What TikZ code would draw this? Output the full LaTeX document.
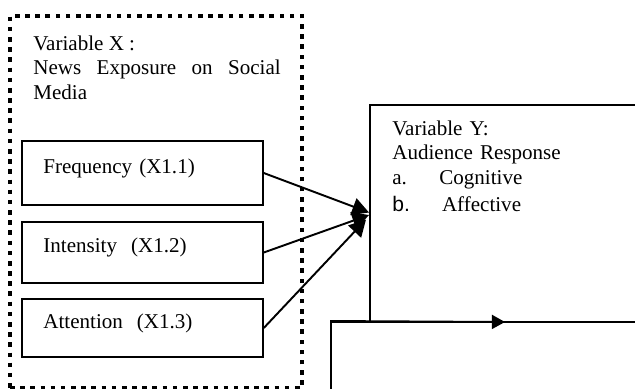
\documentclass[tikz,border=0pt]{standalone}
\usepackage{fontspec}
\setmainfont{Liberation Serif}
\setsansfont{Liberation Sans}
\usetikzlibrary{arrows.meta}

\tikzset{
	itembox/.style = {draw, line width = 0.85pt, minimum width = 137.4pt, text width = 113pt, inner xsep = 12pt, align = left, text height = 9pt, text depth = 9pt},
	dotframe/.style = {draw, line width = 2.4pt, dash pattern = on 2.6pt off 3.2pt, minimum width = 166.4pt, minimum height = 212pt},
	linkarrow/.style = {line width = 1.1pt, -{Triangle[length = 9.5pt, width = 10pt]}},
}

\begin{document}
\begin{tikzpicture}[x = 0.57pt, y = -0.57pt, font = \fontsize{12}{14}\selectfont]

\clip (0, 0) rectangle (635, 388);

\node[dotframe] (FX) at (156, 202) {};

\node[anchor = base west, inner sep = 0pt, text width = 141pt, align = justify] (TX) at (33, 50)
	{Variable X :\\News Exposure on Social \mbox{Media}};

\node[itembox, minimum height = 36.5pt] (FR) at (142.5, 173) {Frequency (X1.1)};
\node[itembox, minimum height = 34.8pt] (IN) at (142.5, 252.5) {Intensity\ \ (X1.2)};
\node[itembox, minimum height = 33pt] (AT) at (142.5, 328) {Attention\ \ (X1.3)};

\node[draw, line width = 0.9pt, minimum width = 165.3pt, minimum height = 123.7pt] (BY) at (515, 213.5) {};

\node[anchor = base west, inner sep = 0pt, text width = 130pt, align = left] (TY) at (392, 135)
	{Variable Y:\\Audience Response\\
	\makebox[26.8pt][l]{a.}Cognitive\\[1.8pt]
	\makebox[28.3pt][l]{\sffamily b.}Affective};

\node[draw, line width = 1.1pt, minimum width = 187.5pt, minimum height = 55.9pt] (BL) at (495.5, 371) {};

\coordinate (JF) at (369, 212.5);
\coordinate (JI) at (369, 215);
\coordinate (JA) at (366, 219.5);
\coordinate (TR) at (505, 322);

\draw[linkarrow] (FR.east) -- (JF);
\draw[linkarrow] (IN.east) -- (JI);
\draw[linkarrow] (AT.east) -- (JA);

\draw[line width = 1.1pt, -{Triangle[length = 7.5pt, width = 8pt]}] (BL.north west) -- (TR);

\end{tikzpicture}
\end{document}
